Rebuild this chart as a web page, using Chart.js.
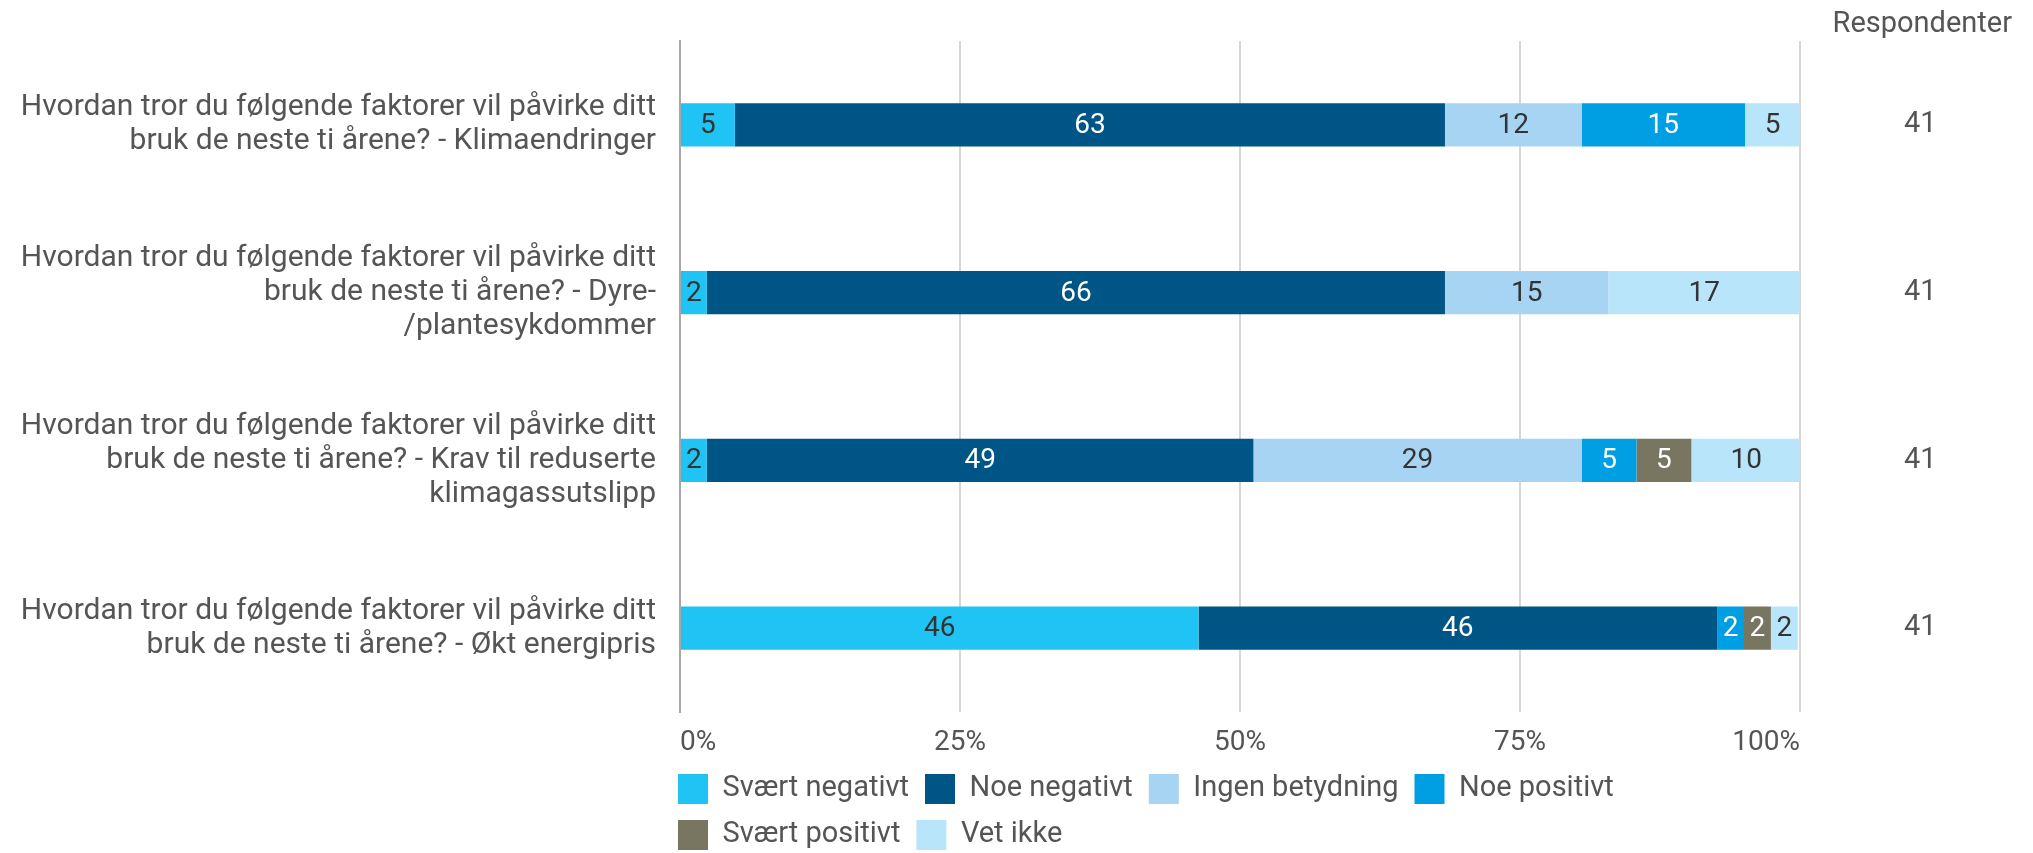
<!DOCTYPE html>
<html>
<head>
<meta charset="utf-8">
<script src="https://cdn.jsdelivr.net/npm/chart.js@4/dist/chart.umd.min.js"></script>
<style>
  body { margin: 0; background: #fff; }
  #wrap { width: 2033px; height: 853px; }
</style>
</head>
<body>
<div id="wrap"><canvas id="surveyChart"></canvas></div>
<script>
const questions = [
  ['Hvordan tror du følgende faktorer vil påvirke ditt', 'bruk de neste ti årene? - Klimaendringer'],
  ['Hvordan tror du følgende faktorer vil påvirke ditt', 'bruk de neste ti årene? - Dyre-', '/plantesykdommer'],
  ['Hvordan tror du følgende faktorer vil påvirke ditt', 'bruk de neste ti årene? - Krav til reduserte', 'klimagassutslipp'],
  ['Hvordan tror du følgende faktorer vil påvirke ditt', 'bruk de neste ti årene? - Økt energipris']
];
const respondents = ['41', '41', '41', '41'];

// percent of respondents per answer
const sværtNegativt = [4.9, 2.4, 2.4, 46.3];
const noeNegativt = [63.4, 65.9, 48.8, 46.3];
const ingenBetydning = [12.2, 14.6, 29.3, 0];
const noePositivt = [14.6, 0, 4.9, 2.4];
const sværtPositivt = [0, 0, 4.9, 2.4];
const vetIkke = [4.9, 17.1, 9.8, 2.4];

const xTicks = [0, 25, 50, 75, 100];

const answerNames = ['Svært negativt', 'Noe negativt', 'Ingen betydning', 'Noe positivt', 'Svært positivt', 'Vet ikke'];
const answerColors = ['#20c4f4', '#005587', '#a8d4f4', '#009fe3', '#787660', '#b9e5fb'];
const labelColors = ['#333333', '#ffffff', '#333333', '#ffffff', '#ffffff', '#333333'];
const series = [sværtNegativt, noeNegativt, ingenBetydning, noePositivt, sværtPositivt, vetIkke];

Chart.defaults.font.family = 'Roboto';
Chart.defaults.color = '#555555';

// values written in the middle of each segment
const segmentLabels = {
  id: 'segmentLabels',
  afterDatasetsDraw(chart) {
    const ctx = chart.ctx;
    ctx.save();
    ctx.font = '28px Roboto';
    ctx.textAlign = 'center';
    ctx.textBaseline = 'middle';
    chart.data.datasets.forEach((ds, i) => {
      const meta = chart.getDatasetMeta(i);
      if (meta.hidden) return;
      meta.data.forEach((bar, j) => {
        const v = ds.data[j];
        if (!v) return;
        ctx.fillStyle = labelColors[i];
        ctx.fillText(Math.round(v), (bar.x + bar.base) / 2, bar.y + 1);
      });
    });
    ctx.restore();
  }
};

// legend starts flush with the plot's left edge
const legendShift = {
  id: 'legendShift',
  afterLayout(chart) {
    const lg = chart.legend;
    const pad = lg.options.labels.padding;
    const dx = chart.chartArea.left - 2 - (lg.left + pad);
    lg.left += dx;
    lg.right += dx;
  }
};

// fixed axis width, and no extra label padding pushing the plot area in
const fixWidth = w => axis => {
  axis.width = w;
  axis.paddingTop = 0;
  axis.paddingBottom = 0;
};

const chart = new Chart(document.getElementById('surveyChart'), {
  type: 'bar',
  data: {
    labels: questions,
    datasets: series.map((data, i) => ({
      label: answerNames[i],
      data: data,
      backgroundColor: answerColors[i],
      borderWidth: 0,
      categoryPercentage: 1,
      barPercentage: 0.258
    }))
  },
  options: {
    indexAxis: 'y',
    responsive: true,
    maintainAspectRatio: false,
    animation: false,
    layout: { padding: { top: 0, right: 21, bottom: -7, left: 0 } },
    scales: {
      x: {
        stacked: true,
        min: 0,
        max: 100,
        afterBuildTicks: axis => { axis.ticks = xTicks.map(v => ({ value: v })); },
        afterFit: axis => { axis.height = 46; axis.paddingLeft = 0; axis.paddingRight = 0; },
        grid: { color: '#d6d6d6', lineWidth: 2, drawTicks: false },
        border: { display: false },
        ticks: {
          align: 'inner',
          padding: 14,
          color: '#555555',
          font: { size: 28 },
          callback: v => v + '%'
        }
      },
      y: {
        stacked: true,
        afterFit: fixWidth(680),
        grid: { display: false, drawTicks: false },
        border: { display: true, color: '#a8a8a8', width: 2 },
        ticks: {
          autoSkip: false,
          padding: 24,
          color: '#555555',
          font: { size: 30, lineHeight: 1.13 }
        }
      },
      y2: {
        type: 'category',
        labels: respondents,
        position: 'right',
        offset: true,
        afterFit: fixWidth(212),
        grid: { display: false, drawTicks: false },
        border: { display: false },
        ticks: {
          crossAlign: 'center',
          padding: 104,
          color: '#555555',
          font: { size: 29 }
        }
      }
    },
    plugins: {
      title: {
        display: true,
        text: 'Respondenter',
        align: 'end',
        color: '#555555',
        font: { size: 29, weight: 'normal', lineHeight: 1 },
        padding: { top: 10, bottom: 2 }
      },
      legend: {
        position: 'bottom',
        align: 'start',
        fullSize: false,
        labels: {
          boxWidth: 30,
          boxHeight: 30,
          padding: 16,
          color: '#555555',
          font: { size: 29 }
        }
      },
      tooltip: { enabled: false }
    }
  },
  plugins: [segmentLabels, legendShift]
});
</script>
</body>
</html>
